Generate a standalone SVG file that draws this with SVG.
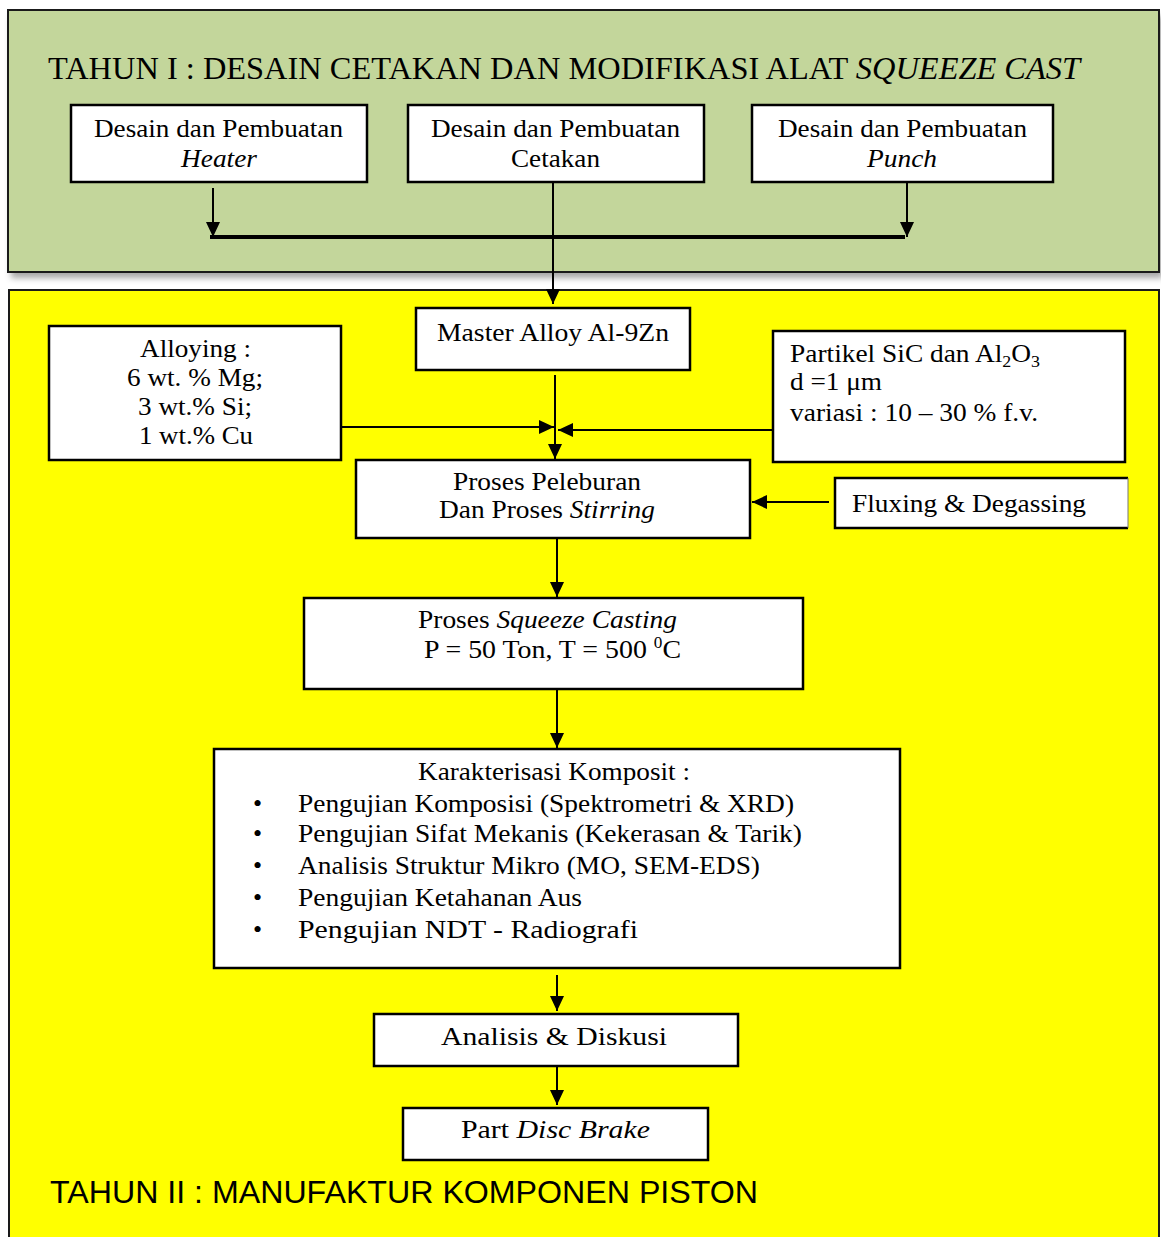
<svg xmlns="http://www.w3.org/2000/svg" width="1161" height="1237" viewBox="0 0 1161 1237">
<style>
.t{font-family:'Liberation Serif','Times New Roman',Tinos,Times,'Nimbus Roman',serif;font-size:26px;fill:#000}
.i{font-style:italic}
.box{fill:#fff;stroke:#000;stroke-width:2.5}
.ca{stroke:#000;stroke-width:2;fill:none;marker-end:url(#ah)}
</style>
<defs>
<marker id="ah" viewBox="0 0 15 14" refX="15" refY="7" markerWidth="15" markerHeight="14" markerUnits="userSpaceOnUse" orient="auto">
<path d="M0,0 L15,7 L0,14 z" fill="#000"/>
</marker>
<filter id="sh" x="-5%" y="-5%" width="110%" height="120%">
<feGaussianBlur stdDeviation="3"/>
</filter>
</defs>
<rect width="1161" height="1237" fill="#fff"/>

<g id="panel-tahun1">
<rect x="11" y="16" width="1152" height="262" fill="#888" filter="url(#sh)" opacity="0.75"/>
<rect x="8" y="10" width="1151" height="262" fill="#C3D69B" stroke="#1a1a1a" stroke-width="2"/>
<text class="t" x="48" y="79" style="font-size:32px" textLength="1032" lengthAdjust="spacingAndGlyphs">TAHUN I : DESAIN CETAKAN DAN MODIFIKASI ALAT <tspan class="i">SQUEEZE CAST</tspan></text>
</g>

<g id="panel-tahun2">
<rect x="9" y="290" width="1150" height="980" fill="#FFFF00" stroke="#1a1a1a" stroke-width="2"/>
<text x="50" y="1203" font-family="'Liberation Sans',Arial,sans-serif" font-size="32" textLength="708" lengthAdjust="spacingAndGlyphs">TAHUN II : MANUFAKTUR KOMPONEN PISTON</text>
</g>

<g id="node-heater">
<rect class="box" x="71" y="105" width="296" height="77"/>
<text class="t" x="94" y="137" textLength="249" lengthAdjust="spacingAndGlyphs">Desain dan Pembuatan</text>
<text class="t i" x="181" y="167" textLength="76" lengthAdjust="spacingAndGlyphs">Heater</text>
</g>
<g id="node-cetakan">
<rect class="box" x="408" y="105" width="296" height="77"/>
<text class="t" x="431" y="137" textLength="249" lengthAdjust="spacingAndGlyphs">Desain dan Pembuatan</text>
<text class="t" x="511" y="167" textLength="89" lengthAdjust="spacingAndGlyphs">Cetakan</text>
</g>
<g id="node-punch">
<rect class="box" x="752" y="105" width="301" height="77"/>
<text class="t" x="778" y="137" textLength="249" lengthAdjust="spacingAndGlyphs">Desain dan Pembuatan</text>
<text class="t i" x="867" y="167" textLength="70" lengthAdjust="spacingAndGlyphs">Punch</text>
</g>

<g id="node-master">
<rect class="box" x="416" y="308" width="274" height="62"/>
<text class="t" x="437" y="341" textLength="232" lengthAdjust="spacingAndGlyphs">Master Alloy Al-9Zn</text>
</g>
<g id="node-alloying">
<rect class="box" x="49" y="326" width="292" height="134"/>
<text class="t" x="140" y="357" textLength="111" lengthAdjust="spacingAndGlyphs">Alloying :</text>
<text class="t" x="127" y="386" textLength="136" lengthAdjust="spacingAndGlyphs">6 wt. % Mg;</text>
<text class="t" x="138" y="415" textLength="114" lengthAdjust="spacingAndGlyphs">3 wt.% Si;</text>
<text class="t" x="139" y="444" textLength="114" lengthAdjust="spacingAndGlyphs">1 wt.% Cu</text>
</g>
<g id="node-partikel">
<rect class="box" x="773" y="331" width="352" height="131"/>
<text class="t" x="790" y="362" textLength="250" lengthAdjust="spacingAndGlyphs">Partikel SiC dan Al<tspan dy="5" style="font-size:17px">2</tspan><tspan dy="-5">O</tspan><tspan dy="5" style="font-size:17px">3</tspan></text>
<text class="t" x="790" y="390" textLength="92" lengthAdjust="spacingAndGlyphs">d =1 μm</text>
<text class="t" x="790" y="421" textLength="248" lengthAdjust="spacingAndGlyphs">variasi : 10 – 30 % f.v.</text>
</g>
<g id="node-peleburan">
<rect class="box" x="356" y="460" width="394" height="78"/>
<text class="t" x="453" y="490" textLength="188" lengthAdjust="spacingAndGlyphs">Proses Peleburan</text>
<text class="t" x="439" y="518" textLength="216" lengthAdjust="spacingAndGlyphs">Dan Proses <tspan class="i">Stirring</tspan></text>
</g>
<g id="node-fluxing">
<rect x="835" y="478" width="293" height="50" fill="#fff"/>
<path d="M1128,478 H835 V528 H1128" fill="none" stroke="#000" stroke-width="2.5"/>
<path d="M1128,478 V528" fill="none" stroke="#777" stroke-width="1"/>
<text class="t" x="852" y="512" textLength="234" lengthAdjust="spacingAndGlyphs">Fluxing &amp; Degassing</text>
</g>
<g id="node-squeeze">
<rect class="box" x="304" y="598" width="499" height="91"/>
<text class="t" x="418" y="628" textLength="259" lengthAdjust="spacingAndGlyphs">Proses <tspan class="i">Squeeze Casting</tspan></text>
<text class="t" x="424" y="658" textLength="257" lengthAdjust="spacingAndGlyphs">P = 50 Ton, T = 500 <tspan dy="-10" style="font-size:16px">0</tspan><tspan dy="10">C</tspan></text>
</g>
<g id="node-karakterisasi">
<rect class="box" x="214" y="749" width="686" height="219"/>
<text class="t" x="418" y="780" textLength="272" lengthAdjust="spacingAndGlyphs">Karakterisasi Komposit :</text>
<text class="t" x="253" y="812">•</text>
<text class="t" x="298" y="812" textLength="496" lengthAdjust="spacingAndGlyphs">Pengujian Komposisi (Spektrometri &amp; XRD)</text>
<text class="t" x="253" y="842">•</text>
<text class="t" x="298" y="842" textLength="504" lengthAdjust="spacingAndGlyphs">Pengujian Sifat Mekanis (Kekerasan &amp; Tarik)</text>
<text class="t" x="253" y="874">•</text>
<text class="t" x="298" y="874" textLength="462" lengthAdjust="spacingAndGlyphs">Analisis Struktur Mikro (MO, SEM-EDS)</text>
<text class="t" x="253" y="906">•</text>
<text class="t" x="298" y="906" textLength="284" lengthAdjust="spacingAndGlyphs">Pengujian Ketahanan Aus</text>
<text class="t" x="253" y="938">•</text>
<text class="t" x="298" y="938" textLength="340" lengthAdjust="spacingAndGlyphs">Pengujian NDT - Radiografi</text>
</g>
<g id="node-analisis">
<rect class="box" x="374" y="1014" width="364" height="52"/>
<text class="t" x="441" y="1045" textLength="226" lengthAdjust="spacingAndGlyphs">Analisis &amp; Diskusi</text>
</g>
<g id="node-part">
<rect class="box" x="403" y="1108" width="305" height="52"/>
<text class="t" x="461" y="1138" textLength="189" lengthAdjust="spacingAndGlyphs">Part <tspan class="i">Disc Brake</tspan></text>
</g>

<g id="connectors">
<path d="M210,237 H905" fill="none" stroke="#000" stroke-width="4"/>
<path class="ca" d="M213,188 V237"/>
<path class="ca" d="M907,182 V237"/>
<path class="ca" d="M553,182 V304"/>
<path class="ca" d="M555,375 V459"/>
<path class="ca" d="M341,427 H554"/>
<path class="ca" d="M773,430 H558"/>
<path class="ca" d="M829,502 H752"/>
<path class="ca" d="M557,538 V597"/>
<path class="ca" d="M557,689 V748"/>
<path class="ca" d="M557,975 V1011"/>
<path class="ca" d="M557,1066 V1105"/>
</g>
</svg>
